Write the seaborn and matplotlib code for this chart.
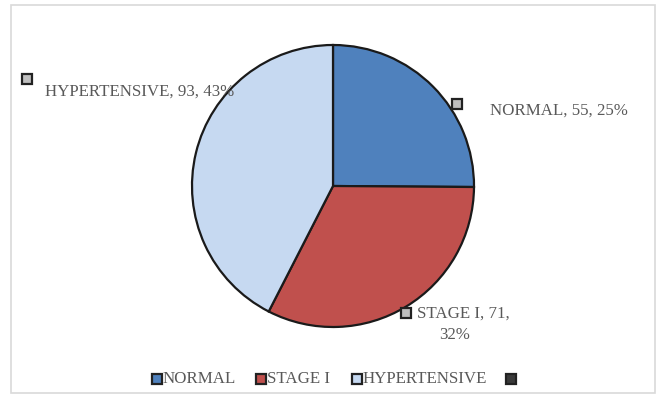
import matplotlib
matplotlib.use("Agg")
import matplotlib.pyplot as plt
from matplotlib.patches import Rectangle
import seaborn as sns

# Blood pressure categories
categories = ["NORMAL", "STAGE I", "HYPERTENSIVE", ""]
counts = [55, 71, 93, 0]
pct_labels = ["25%", "32%", "43%"]
colors = ["#4F81BD", "#C0504D", "#C6D9F1", "#3A3A3A"]

sns.set_theme(style="white")
plt.rcParams["font.family"] = ["Liberation Serif", "DejaVu Serif"]

W, H = 661, 401
fig = plt.figure(figsize=(W / 100, H / 100), dpi=100)
ax = fig.add_axes([0, 0, 1, 1])

# pie, starting at 12 o'clock, going clockwise
wedges, _ = ax.pie(counts, colors=colors, startangle=90, counterclock=False,
                   center=(333, H - 186), radius=141, frame=True,
                   wedgeprops=dict(edgecolor="#1a1a1a", linewidth=1.6))
wedges[3].set_visible(False)

# axes span the whole figure in pixel units (y measured from the top)
ax.set_xlim(0, W)
ax.set_ylim(0, H)
ax.set_aspect("equal")
ax.axis("off")


def py(y):
    return H - y


# outer chart frame
ax.add_patch(Rectangle((11, py(393)), 644, 388, fill=False,
                       edgecolor="#D9D9D9", lw=1.2))

txt_color = "#595959"
fs = 12.2
key_style = dict(marker="s", ms=6.5, mec="#222222", mew=1.6, ls="none")

# data labels with small key squares
label_pos = [(490, 111), (417, 314), (45, 92)]
key_pos = [(457, 104), (406, 313), (27, 79)]
for i in range(3):
    x, y = label_pos[i]
    if categories[i] == "STAGE I":
        ax.text(x, py(y), f"{categories[i]}, {counts[i]},", ha="left",
                va="center", fontsize=fs, color=txt_color)
        ax.text(x + 38, py(y + 21), pct_labels[i], ha="center", va="center",
                fontsize=fs, color=txt_color)
    else:
        ax.text(x, py(y), f"{categories[i]}, {counts[i]}, {pct_labels[i]}",
                ha="left", va="center", fontsize=fs, color=txt_color)
    kx, ky = key_pos[i]
    ax.plot([kx], [py(ky)], mfc="#BFBFBF", **key_style)

# legend row along the bottom
legend_x = [157, 261, 357, 511]
legend_y = 379
for xk, c, name in zip(legend_x, colors, categories):
    ax.plot([xk], [py(legend_y)], mfc=c, **key_style)
    if name:
        ax.text(xk + 6, py(legend_y), name, ha="left", va="center",
                fontsize=fs, color=txt_color)

fig.savefig("out.png", dpi=100)
